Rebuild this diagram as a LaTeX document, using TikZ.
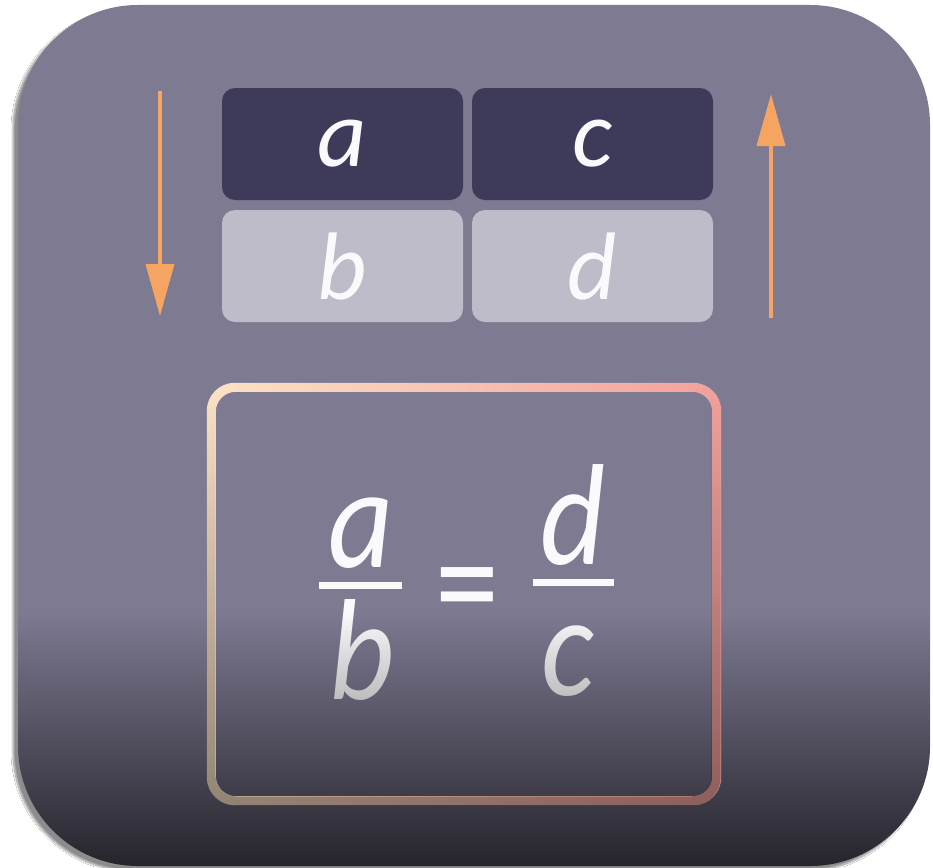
\documentclass[tikz,border=0pt]{standalone}
\usepackage{fontspec}
\setmainfont{Carlito}
\usetikzlibrary{arrows.meta,shadows.blur,fadings}
\definecolor{bgtop}{HTML}{7D7A92}
\definecolor{cellDark}{HTML}{3E3A59}
\definecolor{cellLight}{HTML}{BEBCC8}
\definecolor{arrowC}{HTML}{F5A462}
\definecolor{txtW}{HTML}{FAFAFC}
\definecolor{frUL}{HTML}{FDE4C8}
\definecolor{frUR}{HTML}{F4A29E}
\tikzfading[name=darkdown, top color=transparent!100, bottom color=transparent!30]
\tikzfading[name=darkring, top color=transparent!100, middle color=transparent!100, bottom color=transparent!58]
\tikzset{
  cell/.style={rounded corners=13pt, minimum width=241pt, minimum height=112pt, inner sep=0pt,
    text=txtW, font=\fontsize{96}{100}\selectfont\itshape},
  celldark/.style={cell, fill=cellDark},
  celllight/.style={cell, fill=cellLight},
  flow/.style={draw=arrowC, line width=4pt, -{Triangle[length=52pt,width=28pt]}},
  bigletter/.style={inner sep=0pt, text=txtW, xscale=0.88, font=\fontsize{144}{150}\selectfont\itshape},
  fracbar/.style={draw=txtW, line width=7pt},
}
\begin{document}
\begin{tikzpicture}[x=1pt,y=-1pt]
\useasboundingbox[fill=white] (0,0) rectangle (933,867);
% icon
\def\iconpath{(18,5) rectangle (930,866)}
\fill[bgtop, rounded corners=120pt, blur shadow={shadow xshift=-5pt, shadow yshift=-5pt, shadow blur steps=10, shadow opacity=45}] \iconpath;
% cells
\node[celldark]  (a) at (342.5,144) {a};
\node[celldark]  (c) at (592.5,144) {c};
\node[celllight] (b) at (342.5,266) {b};
\node[celllight] (d) at (592.5,266) {d};
% arrows
\coordinate (l1) at (160,91);
\coordinate (l2) at (160,316);
\coordinate (r1) at (771,318);
\coordinate (r2) at (771,94);
\draw[flow] (l1) -- (l2);
\draw[flow] (r1) -- (r2);
% fraction
\node[bigletter] (fa) at (361,533) {a};
\node[bigletter] (fb) at (362,650) {b};
\node[bigletter] (fd) at (573,515) {d};
\node[bigletter] (fc) at (568,661) {c};
\node[inner sep=0pt, text=txtW, yscale=1.2, font=\fontsize{128}{130}\selectfont] (eq) at (467,601) {=};
\coordinate (b1l) at (319,585);
\coordinate (b1r) at (402,585);
\coordinate (b2l) at (533,582);
\coordinate (b2r) at (614,582);
\draw[fracbar] (b1l) -- (b1r);
\draw[fracbar] (b2l) -- (b2r);
% darkening overlay
\begin{scope}
  \clip[rounded corners=120pt] \iconpath;
  \fill[black, path fading=darkdown] (0,612) rectangle (933,867);
\end{scope}
% frame
\node[minimum width=514pt, minimum height=422pt, inner sep=0pt] (frame) at (464,594) {};
\def\ringpath{[rounded corners=28pt] (frame.north west) rectangle (frame.south east)
    [rounded corners=20pt] ([xshift=9pt,yshift=-9pt]frame.north west) rectangle ([xshift=-9pt,yshift=9pt]frame.south east)}
\shade[even odd rule, left color=frUL, right color=frUR] \ringpath;
\fill[even odd rule, black, path fading=darkring] \ringpath;
\end{tikzpicture}
\end{document}
